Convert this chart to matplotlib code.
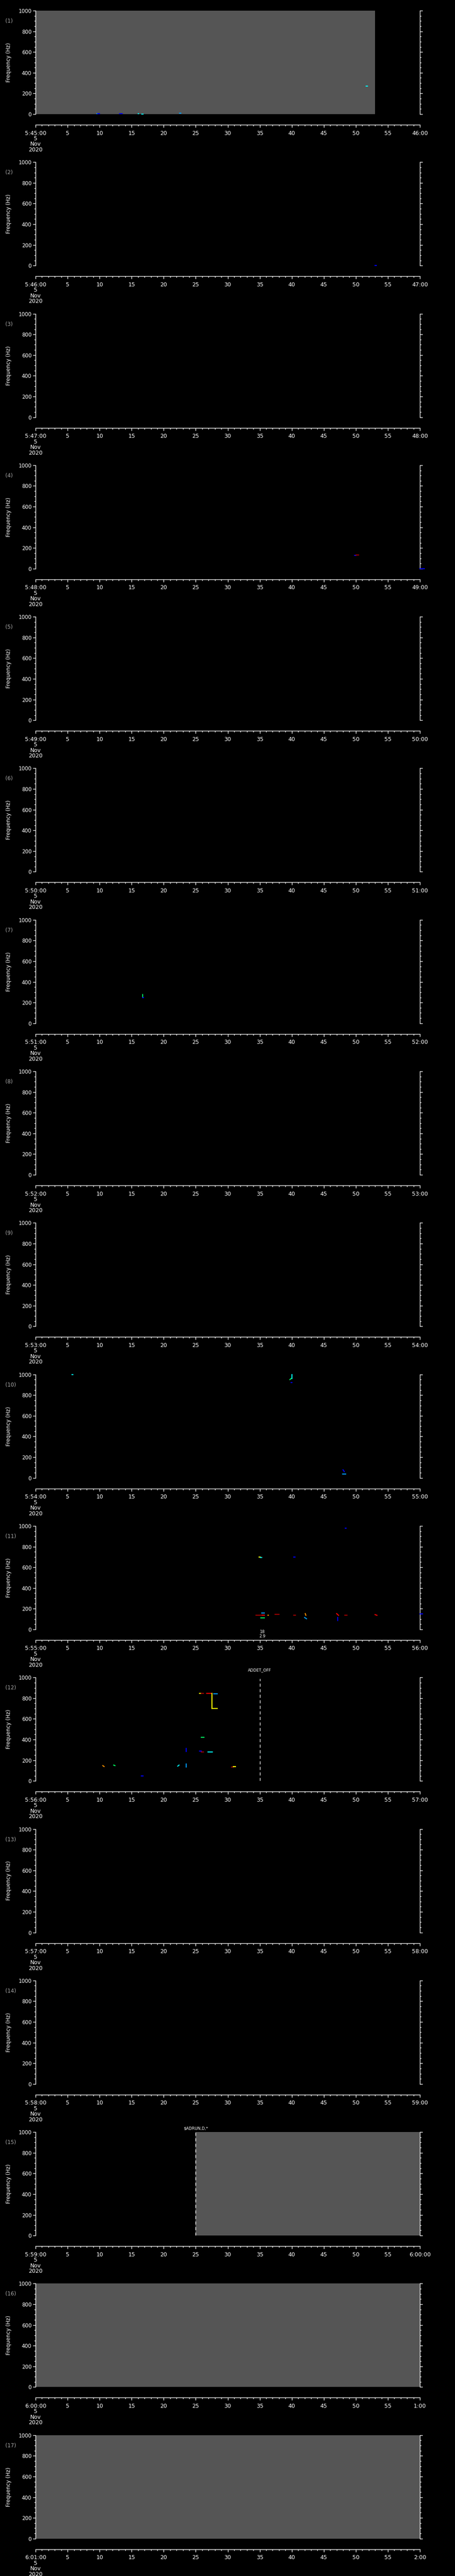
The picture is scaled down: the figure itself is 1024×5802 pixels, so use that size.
import matplotlib
matplotlib.use("Agg")
import matplotlib.pyplot as plt
from matplotlib.ticker import MultipleLocator, FixedLocator

plt.rcParams['font.family'] = ['DejaVu Sans']

# ---------------- data ----------------
panel_start_hour = [5, 5, 5, 5, 5, 5, 5, 5, 5, 5, 5, 5, 5, 5, 5, 6, 6]
panel_start_min = [45, 46, 47, 48, 49, 50, 51, 52, 53, 54, 55, 56, 57, 58, 59, 0, 1]
date_lines = ["5", "Nov", "2020"]

# grey "no data" spans (panel, t0 s, t1 s)
shade_panel = [1, 15, 16, 17]
shade_t0 = [0.0, 25.0, 0.0, 0.0]
shade_t1 = [53.0, 60.0, 60.0, 60.0]

# detected tracks: panel, start/end time (s), start/end freq (Hz), intensity level 0..7
seg_panel = [1, 1, 1, 1, 1, 1, 1,
             2,
             4, 4, 4,
             7, 7,
             10, 10, 10, 10, 10, 10,
             11, 11, 11, 11, 11, 11, 11, 11, 11, 11, 11, 11, 11, 11, 11, 11, 11, 11,
             12, 12, 12, 12, 12, 12, 12, 12, 12, 12, 12, 12, 12, 12, 12, 12, 12, 12]
seg_t0 = [9.6, 9.7, 13.1, 16.0, 16.6, 22.5, 51.6,
          53.0,
          49.8, 50.0, 60.0,
          16.75, 16.7,
          5.7, 40.0, 39.7, 39.9, 48.0, 47.9,
          48.35, 34.9, 35.1, 40.3, 34.4, 35.3, 35.2, 36.25, 37.4, 40.3, 42.1, 42.0, 47.0, 47.2, 48.3, 53.0, 60.0, 35.4,
          10.5, 12.2, 16.5, 22.2, 23.5, 23.5, 25.6, 25.9, 26.7, 27.55, 27.55, 27.8, 25.9, 25.6, 25.9, 26.9, 30.6, 30.9]
seg_t1 = [9.7, 10.0, 13.5, 16.1, 16.8, 22.7, 51.8,
          53.2,
          50.0, 50.4, 60.7,
          16.75, 16.85,
          5.8, 40.0, 39.9, 40.0, 48.2, 48.4,
          48.5, 35.1, 35.3, 40.5, 35.7, 35.7, 35.7, 36.35, 38.0, 40.6, 42.2, 42.3, 47.3, 47.2, 48.6, 53.3, 60.4, 35.7,
          10.7, 12.4, 16.8, 22.4, 23.5, 23.5, 25.9, 26.2, 27.55, 27.55, 28.4, 28.4, 26.3, 25.9, 26.2, 27.6, 30.9, 31.2]
seg_f0 = [5, 5, 5, 5, 1, 10, 272,
          0,
          128, 133, 0,
          255, 250,
          998, 960, 950, 920, 78, 35,
          979, 698, 694, 698, 139, 160, 113, 139, 145, 139, 153, 115, 153, 115, 139, 143, 149, 139,
          148, 153, 49, 143, 162, 314, 848, 848, 848, 848, 702, 844, 423, 290, 279, 279, 136, 139]
seg_f1 = [5, 5, 5, 5, 1, 10, 272,
          0,
          128, 133, 0,
          278, 250,
          998, 1000, 960, 920, 60, 35,
          979, 698, 694, 698, 139, 160, 113, 139, 145, 139, 136, 103, 136, 86, 139, 136, 149, 139,
          139, 148, 49, 153, 133, 284, 848, 848, 848, 702, 702, 844, 423, 290, 279, 279, 136, 139]
seg_level = [1, 0, 0, 2, 2, 1, 2,
             0,
             0, 7, 0,
             3, 0,
             2, 2, 3, 0, 0, 1,
             0, 4, 2, 0, 7, 1, 3, 5, 7, 7, 5, 1, 6, 0, 7, 6, 0, 6,
             5, 3, 0, 2, 1, 0, 4, 7, 6, 4, 4, 1, 3, 0, 7, 2, 7, 4]

# vertical event markers: panel, time (s), label, label height above plot (px)
event_panel = [12, 15]
event_time = [35.0, 25.0]
event_label = ["ADDET_OFF", "$ADRUN,D,*"]
event_label_dy = [17, 8]

# small annotation below panel 11
note_panel = 11
note_time = 35.4
note_lines = ["18", "2.9"]

level_colors = ['#0000ff', '#00a0ff', '#00ffff', '#00ff60',
                '#ffff00', '#ff9000', '#ff0000', '#a00000']

# ---------------- layout ----------------
W, H = 1024, 5802
NP = 17
PH = H / NP
left_px, right_px = 80, 945
top_off, bot_off = 24, 257
px2pt = 72 / 100.0

fig = plt.figure(figsize=(W / 100, H / 100), dpi=100, facecolor='black')


def last_label(h, m):
    m2 = m + 1
    if m2 == 60:
        return f"{h + 1}:00:00"
    return f"{m2}:00"


for i in range(NP):
    pnum = i + 1
    ptop = i * PH
    ax = fig.add_axes([left_px / W, 1 - (ptop + bot_off) / H,
                       (right_px - left_px) / W, (bot_off - top_off) / H])
    ax.set_facecolor('black')
    ax.set_xlim(0, 60)
    ax.set_ylim(0, 1000)

    for s in range(len(shade_panel)):
        if shade_panel[s] == pnum:
            ax.axvspan(shade_t0[s], shade_t1[s], color='#555555', lw=0, zorder=0)

    for s in range(len(seg_panel)):
        if seg_panel[s] == pnum:
            ax.plot([seg_t0[s], seg_t1[s]], [seg_f0[s], seg_f1[s]],
                    color=level_colors[seg_level[s]], lw=1.6,
                    solid_capstyle='projecting', clip_on=False, zorder=3)

    for e in range(len(event_panel)):
        if event_panel[e] == pnum:
            top_frac = 1.0 if pnum == 15 else 0.987
            ax.plot([event_time[e], event_time[e]], [0, 1000 * top_frac],
                    color='white', lw=1.0, dashes=(5, 4), zorder=4)
            ax.annotate(event_label[e], xy=(event_time[e], 1000), xycoords='data',
                        xytext=(0, event_label_dy[e] * px2pt), textcoords='offset points',
                        ha='center', va='center', color='white', fontsize=6.5,
                        annotation_clip=False)

    if pnum == note_panel:
        for k, txt in enumerate(note_lines):
            ax.annotate(txt, xy=(note_time, 0), xycoords='data',
                        xytext=(0, -(6 + 10 * k) * px2pt), textcoords='offset points',
                        ha='center', va='center', color='white', fontsize=6.5,
                        annotation_clip=False)

    # spines
    ax.spines['top'].set_visible(False)
    for sp in ('left', 'right', 'bottom'):
        ax.spines[sp].set_color('white')
        ax.spines[sp].set_linewidth(1.0)
    ax.spines['bottom'].set_position(('outward', 24 * px2pt))

    # y axis
    ax.yaxis.set_major_locator(MultipleLocator(200))
    ax.yaxis.set_minor_locator(MultipleLocator(50))
    ax.tick_params(axis='y', which='both', left=True, right=True, direction='out',
                   colors='white', labelsize=8.5, pad=2.5, width=1)
    ax.tick_params(axis='y', which='major', length=4)
    ax.tick_params(axis='y', which='minor', length=2)
    ax.set_ylabel("Frequency (Hz)", color='white', fontsize=8.5)
    ax.yaxis.set_label_coords(-0.062, 0.5)

    # x axis
    ax.xaxis.set_major_locator(FixedLocator(list(range(0, 61, 5))))
    ax.xaxis.set_minor_locator(MultipleLocator(1))
    h = panel_start_hour[i]
    m = panel_start_min[i]
    first = f"{h}:{m:02d}:00\n" + "\n".join(date_lines)
    labels = [first] + [str(v) for v in range(5, 60, 5)] + [last_label(h, m)]
    ax.set_xticklabels(labels)
    ax.tick_params(axis='x', which='both', bottom=True, top=False, direction='out',
                   colors='white', labelsize=9, pad=5, width=1)
    ax.tick_params(axis='x', which='major', length=4)
    ax.tick_params(axis='x', which='minor', length=2.5)
    for lab in ax.get_xticklabels():
        lab.set_linespacing(0.95)

    # panel number
    ax.text(-0.0786, (bot_off - 47.5) / (bot_off - top_off), f"({pnum})",
            transform=ax.transAxes, ha='left', va='center', color='#a8a8a8', fontsize=8.5)

fig.savefig('out.png', dpi=100, facecolor='black')
